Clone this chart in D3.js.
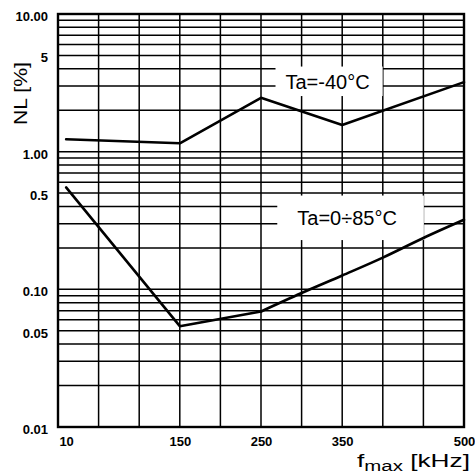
<!DOCTYPE html>
<html>
<head>
<meta charset="utf-8">
<script src="https://cdn.jsdelivr.net/npm/d3@7"></script>
<style>
  html, body { margin: 0; padding: 0; background: #fff; }
  svg { display: block; }
  text { font-family: "Liberation Sans", Arial, Helvetica, sans-serif; fill: #000; }
</style>
</head>
<body>
<svg id="chart" width="475" height="472"></svg>
<script>
// Non-linearity NL [%] versus maximum frequency f_max [kHz]
const fmaxTicks = [10, 150, 250, 350, 500];
const nlTickValues = [10, 5, 1, 0.5, 0.1, 0.05, 0.01];
const nlTickLabels = ["10.00", "5", "1.00", "0.5", "0.10", "0.05", "0.01"];

// Ta = -40 °C
const fmaxCold = [10, 150, 250, 350, 500];
const nlCold = [1.23, 1.15, 2.46, 1.56, 3.2];

// Ta = 0 ÷ 85 °C
const fmaxWarm = [10, 150, 250, 300, 350, 400, 450, 500];
const nlWarm = [0.55, 0.054, 0.069, 0.094, 0.126, 0.17, 0.236, 0.32];

const seriesLabels = ["Ta=-40°C", "Ta=0÷85°C"];

const W = 475, H = 472;
const margin = { left: 58, top: 14, right: 11, bottom: 45 };
const x0 = margin.left, x1 = W - margin.right;
const y0 = H - margin.bottom, y1 = margin.top;

const x = d3.scaleLinear().domain([0, 500]).range([x0, x1]);
const y = d3.scaleLog().domain([0.01, 10]).range([y0, y1]);

const svg = d3.select("#chart");

// grid: vertical every 50 kHz, horizontal at 1..9 of each decade
const vGrid = d3.range(0, 501, 50);
const hGrid = [];
[0.01, 0.1, 1].forEach(dec => { for (let k = 1; k <= 9; k++) hGrid.push(dec * k); });
hGrid.push(10);

const grid = svg.append("g").attr("stroke", "#000").attr("stroke-width", 1.5);
grid.selectAll("line.v").data(vGrid).join("line")
  .attr("class", "v")
  .attr("x1", d => x(d)).attr("x2", d => x(d))
  .attr("y1", y0).attr("y2", y1);
grid.selectAll("line.h").data(hGrid).join("line")
  .attr("class", "h")
  .attr("x1", x0).attr("x2", x1)
  .attr("y1", d => y(d)).attr("y2", d => y(d));

// frame
svg.append("rect")
  .attr("x", x0).attr("y", y1)
  .attr("width", x1 - x0).attr("height", y0 - y1)
  .attr("fill", "none").attr("stroke", "#000").attr("stroke-width", 2.4);

// axes (labels only; grid provides ticks)
const yAxis = d3.axisLeft(y).tickValues(nlTickValues)
  .tickFormat((d, i) => nlTickLabels[i]).tickSize(0).tickPadding(10);
svg.append("g").attr("transform", `translate(${x0},0)`).call(yAxis)
  .call(g => g.select(".domain").remove())
  .selectAll("text")
  .attr("font-family", "'Liberation Sans', Arial, sans-serif")
  .attr("font-weight", "bold").attr("font-size", 13).attr("fill", "#000")
  .attr("dy", "0.5em");

const xAxis = d3.axisBottom(x).tickValues(fmaxTicks).tickFormat(d3.format("d"))
  .tickSize(0).tickPadding(10);
svg.append("g").attr("transform", `translate(0,${y0})`).call(xAxis)
  .call(g => g.select(".domain").remove())
  .selectAll("text")
  .attr("font-family", "'Liberation Sans', Arial, sans-serif")
  .attr("font-weight", "bold").attr("font-size", 13).attr("fill", "#000");

// series labels: white boxes mask the grid, text sits on top
const labelSpecs = [
  { text: seriesLabels[0], fx: 332, nl: 2.85, padL: 10, padR: 13, padT: 8, padB: 7 },
  { text: seriesLabels[1], fx: 356, nl: 0.293, padL: 20, padR: 27, padT: 15, padB: 15 }
];
const boxLayer = svg.append("g");
const curveLayer = svg.append("g");
const textLayer = svg.append("g");
labelSpecs.forEach(s => {
  const t = textLayer.append("text")
    .attr("x", x(s.fx)).attr("y", y(s.nl))
    .attr("text-anchor", "middle").attr("font-size", 20)
    .text(s.text);
  const b = t.node().getBBox();
  const capTop = y(s.nl) - 14.5;
  boxLayer.append("rect")
    .attr("x", b.x - s.padL).attr("y", capTop - s.padT)
    .attr("width", b.width + s.padL + s.padR)
    .attr("height", 14.5 + s.padT + s.padB)
    .attr("fill", "#fff");
});

// curves
const line = d3.line().x(d => x(d[0])).y(d => y(d[1]));
const smooth = d3.line().x(d => x(d[0])).y(d => y(d[1])).curve(d3.curveMonotoneX);
const cold = d3.zip(fmaxCold, nlCold);
const warm = d3.zip(fmaxWarm, nlWarm);
const bend = fmaxWarm.indexOf(250);

curveLayer.append("path")
  .datum(cold)
  .attr("d", line);
curveLayer.append("path")
  .datum(warm.slice(0, bend + 1))
  .attr("d", line);
curveLayer.append("path")
  .datum(warm.slice(bend))
  .attr("d", smooth);
curveLayer.selectAll("path")
  .attr("fill", "none").attr("stroke", "#000")
  .attr("stroke-width", 2.6).attr("stroke-linejoin", "round").attr("stroke-linecap", "round");

// axis titles
svg.append("text")
  .attr("transform", `translate(26.5,${93.5}) rotate(-90)`)
  .attr("text-anchor", "middle").attr("font-size", 19)
  .attr("textLength", 63).attr("lengthAdjust", "spacingAndGlyphs")
  .text("NL [%]");

const xt = svg.append("text")
  .attr("x", 357).attr("y", 466.5)
  .attr("font-size", 18)
  .attr("textLength", 113).attr("lengthAdjust", "spacingAndGlyphs");
xt.append("tspan").text("f");
xt.append("tspan").attr("font-size", 14).attr("dy", 4).text("max");
xt.append("tspan").attr("dy", -4).text(" [kHz]");
</script>
</body>
</html>
